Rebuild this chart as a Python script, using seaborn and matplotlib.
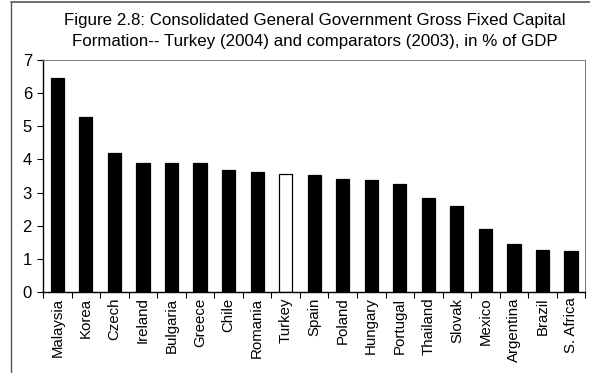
import matplotlib
matplotlib.use("Agg")
import matplotlib.pyplot as plt
from matplotlib.lines import Line2D
import seaborn as sns
import pandas as pd

countries = ["Malaysia", "Korea", "Czech", "Ireland", "Bulgaria", "Greece", "Chile",
             "Romania", "Turkey", "Spain", "Poland", "Hungary", "Portugal", "Thailand",
             "Slovak", "Mexico", "Argentina", "Brazil", "S. Africa"]
gfcf_pct_gdp = [6.45, 5.27, 4.20, 3.90, 3.90, 3.90, 3.69, 3.61, 3.56, 3.52, 3.42,
                3.39, 3.27, 2.83, 2.59, 1.89, 1.44, 1.28, 1.25]
highlight = "Turkey"
y_ticks = [0, 1, 2, 3, 4, 5, 6, 7]
title_lines = ["Figure 2.8: Consolidated General Government Gross Fixed Capital",
               "Formation-- Turkey (2004) and comparators (2003), in % of GDP"]

sns.set_theme(style="white")
plt.rcParams["font.family"] = ["Liberation Sans", "DejaVu Sans"]

df = pd.DataFrame({"country": countries, "value": gfcf_pct_gdp})
palette = {c: ("white" if c == highlight else "black") for c in countries}

fig = plt.figure(figsize=(5.90, 3.73), dpi=100)
ax = fig.add_axes([0.073, 0.217, 0.919, 0.622])

sns.barplot(data=df, x="country", y="value", hue="country", palette=palette,
            legend=False, width=0.46, edgecolor="black", linewidth=0.9,
            saturation=1, ax=ax)

ax.set_xlim(-0.5, len(countries) - 0.5)
ax.set_ylim(0, 7)
ax.set_yticks(y_ticks)
ax.set_yticklabels([str(t) for t in y_ticks], fontsize=12)
ax.set_xlabel("")
ax.set_ylabel("")
ax.set_xticks(range(len(countries)))
ax.set_xticklabels(countries, rotation=90, fontsize=10.8)
ax.tick_params(axis="x", length=0, pad=4, labelcolor="black")
ax.tick_params(axis="y", length=4, width=0.8, color="black", direction="out", pad=4,
               left=True, labelcolor="black")

# minor ticks between categories on the x axis
ax.set_xticks([i - 0.5 for i in range(len(countries) + 1)], minor=True)
ax.tick_params(axis="x", which="minor", length=4, width=0.8, color="black",
               direction="out", bottom=True)

for side in ["left", "bottom"]:
    ax.spines[side].set_color("black")
    ax.spines[side].set_linewidth(1.0)
for side in ["top", "right"]:
    ax.spines[side].set_color("#777777")
    ax.spines[side].set_linewidth(0.7)
    ax.spines[side].set_linestyle((0, (1, 1)))

fig.text(0.534, 0.946, title_lines[0], ha="center", va="center", fontsize=12.2,
         color="black")
fig.text(0.534, 0.890, title_lines[1], ha="center", va="center", fontsize=12.2,
         color="black")

# outer frame edges
fig.add_artist(Line2D([11 / 590, 11 / 590], [0, 1 - 2 / 373], transform=fig.transFigure,
                      color="#555555", linewidth=1.0))
fig.add_artist(Line2D([11 / 590, 1], [1 - 2 / 373, 1 - 2 / 373], transform=fig.transFigure,
                      color="#555555", linewidth=1.2))

fig.savefig("out.png", dpi=100)
